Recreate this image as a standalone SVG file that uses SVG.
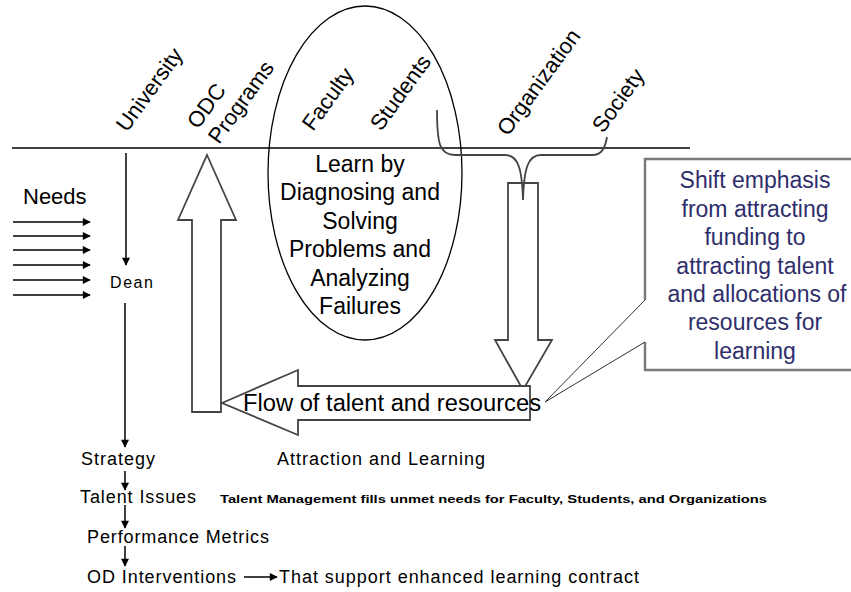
<svg xmlns="http://www.w3.org/2000/svg" width="851" height="592" viewBox="0 0 851 592">
<defs>
<marker id="ah" viewBox="0 0 10 10" refX="9" refY="5" markerWidth="10" markerHeight="8" markerUnits="userSpaceOnUse" orient="auto">
<path d="M0,0 L10,5 L0,10 Z" fill="#000"/>
</marker>
<style>
text{font-family:"Liberation Sans",Arial,sans-serif;fill:#000}
.lbl{font-size:22px}
.big{font-size:23px;text-anchor:middle}
.call{font-size:23px;text-anchor:middle;fill:#2e2e6b}
.bot{font-size:18px}
.block{fill:#fff;stroke:#444;stroke-width:1.8;stroke-linejoin:miter}
.con{stroke:#000;stroke-width:1.5;fill:none}
</style>
</defs>
<rect width="851" height="592" fill="#fff"/>

<g id="axis">
<line x1="12" y1="148" x2="690" y2="148" stroke="#000" stroke-width="1.5"/>
</g>

<g id="labels">
<text class="lbl" transform="translate(127,133) rotate(-54)">University</text>
<text class="lbl" transform="translate(198,130) rotate(-54)">ODC</text>
<text class="lbl" transform="translate(219,145) rotate(-54)">Programs</text>
<text class="lbl" transform="translate(313,132) rotate(-54)">Faculty</text>
<text class="lbl" transform="translate(381,132) rotate(-54)">Students</text>
<text class="lbl" transform="translate(508,137) rotate(-54)">Organization</text>
<text class="lbl" transform="translate(603,134) rotate(-54)">Society</text>
</g>

<g id="learn">
<ellipse cx="365" cy="173" rx="97" ry="167" fill="none" stroke="#000" stroke-width="1.3"/>
<text class="big" x="360" y="172">Learn by</text>
<text class="big" x="360" y="200">Diagnosing and</text>
<text class="big" x="360" y="229">Solving</text>
<text class="big" x="360" y="257">Problems and</text>
<text class="big" x="360" y="286">Analyzing</text>
<text class="big" x="360" y="314">Failures</text>
</g>

<g id="needs">
<text x="23" y="204" style="font-size:22px">Needs</text>
</g>

<g id="dean">
<text x="110" y="288" style="font-size:16px" textLength="43">Dean</text>
</g>

<g id="odc-arrow">
<polygon class="block" points="207,155 236,220 221,220 221,412 192,412 192,220 178,220"/>
</g>

<g id="down-arrow">
<polygon class="block" points="508,183 538,183 538,340 552,340 523,390 495,340 508,340"/>
</g>

<g id="flow-arrow">
<polygon class="block" points="222,403 298,370 298,386 530,386 530,420 298,420 298,435"/>
<text x="243" y="411" style="font-size:23px" textLength="298" lengthAdjust="spacingAndGlyphs">Flow of talent and resources</text>
</g>

<g id="callout">
<polygon points="645,159 860,159 860,370 645,370 645,342 545,402 645,300" fill="#fff" stroke="none"/>
<path d="M645,300 L645,159 L860,159 M860,370 L645,370 L645,342" fill="none" stroke="#7a7a7a" stroke-width="2.5"/>
<path d="M645,300 L545,402 L645,342" fill="none" stroke="#333" stroke-width="1"/>
<text class="call" x="755" y="188">Shift emphasis</text>
<text class="call" x="755" y="217">from attracting</text>
<text class="call" x="755" y="245">funding to</text>
<text class="call" x="755" y="274">attracting talent</text>
<text class="call" x="757" y="302">and allocations of</text>
<text class="call" x="755" y="330">resources for</text>
<text class="call" x="755" y="359">learning</text>
</g>

<g id="bottom-text">
<text class="bot" x="81" y="465" textLength="74">Strategy</text>
<text class="bot" x="277" y="465" textLength="208">Attraction and Learning</text>
<text class="bot" x="80" y="503" textLength="116">Talent Issues</text>
<text x="220" y="503" style="font-size:11px;font-weight:bold" textLength="547" lengthAdjust="spacingAndGlyphs">Talent Management fills unmet needs for Faculty, Students, and Organizations</text>
<text class="bot" x="87" y="543" textLength="182">Performance Metrics</text>
<text class="bot" x="87" y="583" textLength="149">OD Interventions</text>
<text class="bot" x="279" y="583" textLength="360">That support enhanced learning contract</text>
</g>

<g id="connectors">
<line class="con" x1="13" y1="222" x2="90" y2="222" marker-end="url(#ah)"/>
<line class="con" x1="13" y1="236" x2="90" y2="236" marker-end="url(#ah)"/>
<line class="con" x1="13" y1="250" x2="90" y2="250" marker-end="url(#ah)"/>
<line class="con" x1="13" y1="265" x2="90" y2="265" marker-end="url(#ah)"/>
<line class="con" x1="13" y1="280" x2="90" y2="280" marker-end="url(#ah)"/>
<line class="con" x1="13" y1="295" x2="90" y2="295" marker-end="url(#ah)"/>
<line class="con" x1="126" y1="153" x2="126" y2="265" marker-end="url(#ah)"/>
<line class="con" x1="125" y1="303" x2="125" y2="447" marker-end="url(#ah)"/>
<line class="con" x1="125" y1="471" x2="125" y2="490" marker-end="url(#ah)"/>
<line class="con" x1="125" y1="505" x2="125" y2="528" marker-end="url(#ah)"/>
<line class="con" x1="125" y1="546" x2="125" y2="566" marker-end="url(#ah)"/>
<line class="con" x1="244" y1="577" x2="277" y2="577" marker-end="url(#ah)"/>
<path d="M437,110 C437,145 440,155 455,155 L505,155 C518,155 522,168 523,200 M523,200 C524,168 528,155 541,155 L592,155 C602,155 605,148 607,137" fill="none" stroke="#444" stroke-width="1.8"/>
</g>
</svg>
